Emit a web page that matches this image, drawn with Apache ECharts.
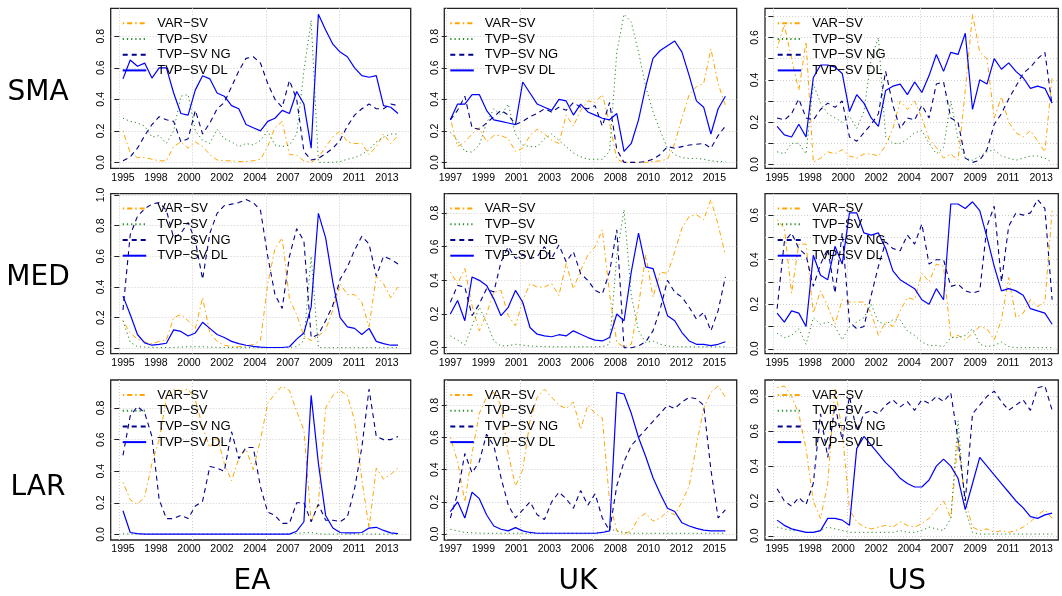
<!DOCTYPE html>
<html><head><meta charset="utf-8">
<script src="https://cdn.jsdelivr.net/npm/echarts@6.0.0/dist/echarts.min.js"></script>
<style>html,body{margin:0;padding:0;background:#fff}#c{width:1062px;height:596px}</style>
</head><body><div id="c"></div>
<script>
// ---------- names & tick labels ----------
const rowNames = ['SMA', 'MED', 'LAR'];
const colNames = ['EA', 'UK', 'US'];
const seriesNames = ['VAR\u2212SV', 'TVP\u2212SV', 'TVP\u2212SV NG', 'TVP\u2212SV DL'];
const xLabelsEA = ['1995','1998','2000','2002','2004','2007','2009','2011','2013'];
const xLabelsUK = ['1997','1999','2001','2003','2006','2008','2010','2012','2015'];
const xLabelsUS = ['1995','1998','2000','2002','2004','2007','2009','2011','2013'];
const xLabelQuarters = [1, 10, 19, 28, 37, 46, 55, 64, 73];
const xGridQuarters = [0, 20, 40, 60, 80];
const firstQuarter = 1, lastQuarter = 76;

// ---------- data (39 evenly spaced samples per series) ----------
const SMA_EA_VAR = [0.20,0.06,0.03,0.03,0.02,0.01,0.01,0.10,0.13,0.09,0.13,0.10,0.05,0.015,0.01,0.01,0.005,0.005,0.01,0.02,0.10,0.22,0.26,0.05,0.045,0.01,0.0,0.03,0.10,0.16,0.20,0.13,0.12,0.12,0.05,0.10,0.18,0.12,0.17];
const SMA_EA_TVP = [0.28,0.26,0.25,0.23,0.16,0.17,0.12,0.20,0.42,0.43,0.20,0.14,0.12,0.21,0.15,0.13,0.10,0.12,0.11,0.14,0.20,0.11,0.10,0.11,0.18,0.58,0.90,0.0,0.0,0.0,0.005,0.02,0.03,0.05,0.08,0.13,0.16,0.18,0.18];
const SMA_EA_NG  = [0.01,0.035,0.09,0.17,0.24,0.29,0.27,0.26,0.13,0.15,0.33,0.18,0.25,0.34,0.38,0.48,0.58,0.66,0.67,0.63,0.50,0.40,0.35,0.52,0.40,0.07,0.015,0.025,0.055,0.09,0.14,0.23,0.30,0.34,0.37,0.34,0.34,0.37,0.36];
const SMA_EA_DL  = [0.53,0.65,0.61,0.63,0.535,0.60,0.60,0.44,0.31,0.30,0.46,0.55,0.53,0.44,0.42,0.36,0.34,0.24,0.22,0.20,0.26,0.28,0.33,0.31,0.45,0.37,0.09,0.94,0.84,0.75,0.70,0.67,0.60,0.55,0.54,0.55,0.36,0.35,0.31];

const SMA_UK_VAR = [0.28,0.10,0.13,0.18,0.22,0.13,0.17,0.17,0.15,0.07,0.09,0.17,0.21,0.18,0.14,0.12,0.30,0.23,0.33,0.39,0.38,0.43,0.25,0.02,0.0,0.0,0.0,0.0,0.005,0.01,0.02,0.12,0.28,0.43,0.48,0.50,0.72,0.50,0.36];
const SMA_UK_TVP = [0.19,0.14,0.07,0.065,0.11,0.25,0.34,0.30,0.37,0.18,0.11,0.10,0.10,0.15,0.18,0.14,0.10,0.06,0.035,0.02,0.02,0.02,0.07,0.70,0.94,0.89,0.70,0.48,0.32,0.20,0.09,0.05,0.03,0.025,0.025,0.02,0.01,0.005,0.005];
const SMA_UK_NG  = [0.27,0.33,0.42,0.22,0.21,0.25,0.29,0.33,0.30,0.24,0.26,0.29,0.31,0.34,0.32,0.35,0.33,0.38,0.35,0.34,0.36,0.23,0.38,0.08,0.0,0.0,0.0,0.005,0.02,0.05,0.10,0.09,0.10,0.11,0.115,0.12,0.09,0.17,0.23];
const SMA_UK_DL  = [0.27,0.37,0.37,0.43,0.43,0.33,0.27,0.26,0.25,0.24,0.51,0.44,0.37,0.35,0.33,0.40,0.39,0.30,0.37,0.32,0.30,0.28,0.27,0.31,0.07,0.12,0.27,0.48,0.66,0.71,0.74,0.77,0.70,0.55,0.39,0.35,0.18,0.34,0.42];

const SMA_US_VAR = [0.55,0.66,0.50,0.35,0.58,0.01,0.03,0.06,0.05,0.07,0.04,0.03,0.05,0.05,0.04,0.09,0.17,0.30,0.26,0.30,0.22,0.12,0.08,0.03,0.05,0.02,0.35,0.71,0.53,0.50,0.22,0.32,0.20,0.15,0.13,0.16,0.11,0.06,0.41];
const SMA_US_TVP = [0.06,0.05,0.10,0.10,0.05,0.38,0.29,0.24,0.22,0.20,0.23,0.17,0.25,0.50,0.60,0.13,0.10,0.10,0.12,0.15,0.16,0.10,0.05,0.08,0.30,0.12,0.03,0.02,0.04,0.06,0.07,0.04,0.03,0.02,0.03,0.04,0.04,0.03,0.01];
const SMA_US_NG  = [0.22,0.21,0.24,0.31,0.22,0.21,0.26,0.29,0.27,0.30,0.13,0.11,0.15,0.19,0.24,0.44,0.28,0.17,0.22,0.21,0.28,0.22,0.38,0.39,0.22,0.20,0.03,0.01,0.02,0.07,0.19,0.24,0.31,0.37,0.43,0.46,0.50,0.53,0.28];
const SMA_US_DL  = [0.18,0.14,0.13,0.19,0.13,0.41,0.47,0.47,0.46,0.43,0.25,0.33,0.29,0.22,0.18,0.35,0.37,0.38,0.33,0.39,0.34,0.42,0.52,0.44,0.53,0.52,0.62,0.26,0.40,0.38,0.50,0.45,0.48,0.44,0.41,0.36,0.37,0.36,0.29];

const MED_EA_VAR = [0.18,0.10,0.06,0.04,0.03,0.045,0.055,0.20,0.22,0.18,0.13,0.33,0.10,0.045,0.02,0.01,0.01,0.015,0.025,0.05,0.42,0.65,0.72,0.32,0.22,0.08,0.05,0.08,0.12,0.25,0.42,0.35,0.35,0.30,0.14,0.47,0.42,0.33,0.40];
const MED_EA_TVP = [0.18,0.04,0.01,0.008,0.006,0.005,0.005,0.005,0.008,0.01,0.01,0.01,0.008,0.006,0.005,0.005,0.004,0.004,0.004,0.004,0.004,0.004,0.005,0.006,0.01,0.05,0.60,0.005,0.004,0.004,0.004,0.004,0.004,0.004,0.004,0.004,0.004,0.004,0.004];
const MED_EA_NG  = [0.25,0.74,0.86,0.91,0.94,0.95,0.90,0.72,0.75,0.82,0.70,0.45,0.75,0.88,0.93,0.94,0.95,0.97,0.95,0.90,0.60,0.35,0.26,0.60,0.78,0.70,0.07,0.09,0.18,0.28,0.45,0.53,0.64,0.73,0.68,0.47,0.60,0.58,0.55];
const MED_EA_DL  = [0.34,0.22,0.09,0.035,0.02,0.025,0.033,0.12,0.11,0.08,0.10,0.17,0.13,0.09,0.07,0.045,0.03,0.02,0.012,0.008,0.005,0.005,0.005,0.01,0.06,0.10,0.27,0.88,0.72,0.43,0.20,0.14,0.13,0.09,0.13,0.045,0.03,0.02,0.02];

const MED_UK_VAR = [0.45,0.38,0.47,0.25,0.10,0.20,0.33,0.34,0.19,0.13,0.28,0.38,0.36,0.36,0.38,0.31,0.50,0.35,0.46,0.55,0.60,0.70,0.32,0.03,0.005,0.02,0.25,0.55,0.30,0.45,0.44,0.57,0.71,0.78,0.79,0.76,0.88,0.73,0.55];
const MED_UK_TVP = [0.07,0.045,0.015,0.13,0.24,0.15,0.04,0.01,0.012,0.02,0.015,0.01,0.008,0.006,0.005,0.005,0.005,0.005,0.005,0.005,0.005,0.006,0.02,0.55,0.82,0.31,0.10,0.03,0.04,0.02,0.01,0.005,0.005,0.005,0.005,0.005,0.005,0.005,0.005];
const MED_UK_NG  = [0.27,0.37,0.36,0.19,0.26,0.35,0.33,0.51,0.60,0.53,0.55,0.53,0.54,0.60,0.53,0.61,0.51,0.57,0.44,0.40,0.34,0.32,0.45,0.70,0.0,0.0,0.01,0.035,0.10,0.23,0.40,0.33,0.30,0.24,0.17,0.21,0.10,0.22,0.42];
const MED_UK_DL  = [0.20,0.28,0.16,0.42,0.40,0.37,0.29,0.19,0.24,0.34,0.27,0.12,0.08,0.07,0.065,0.077,0.07,0.10,0.08,0.06,0.045,0.04,0.06,0.20,0.16,0.45,0.68,0.48,0.47,0.33,0.19,0.16,0.09,0.04,0.02,0.02,0.012,0.02,0.035];

const MED_US_VAR = [0.58,0.54,0.25,0.47,0.47,0.16,0.26,0.19,0.11,0.22,0.21,0.21,0.21,0.16,0.06,0.12,0.10,0.17,0.23,0.22,0.34,0.30,0.38,0.37,0.05,0.06,0.04,0.07,0.10,0.09,0.04,0.13,0.32,0.14,0.16,0.22,0.19,0.21,0.62];
const MED_US_TVP = [0.07,0.05,0.06,0.09,0.02,0.14,0.11,0.12,0.10,0.04,0.10,0.12,0.14,0.20,0.12,0.11,0.13,0.13,0.08,0.06,0.03,0.015,0.015,0.01,0.05,0.05,0.06,0.09,0.02,0.01,0.015,0.03,0.01,0.005,0.005,0.005,0.005,0.005,0.005];
const MED_US_NG  = [0.18,0.48,0.52,0.45,0.42,0.28,0.38,0.45,0.25,0.52,0.12,0.09,0.10,0.24,0.37,0.48,0.45,0.44,0.51,0.47,0.56,0.38,0.40,0.40,0.28,0.29,0.26,0.25,0.26,0.55,0.64,0.30,0.55,0.61,0.60,0.61,0.67,0.63,0.22];
const MED_US_DL  = [0.16,0.12,0.17,0.16,0.10,0.42,0.33,0.31,0.46,0.38,0.61,0.61,0.52,0.51,0.52,0.45,0.35,0.31,0.29,0.27,0.22,0.20,0.27,0.22,0.65,0.65,0.63,0.66,0.62,0.50,0.37,0.26,0.27,0.26,0.24,0.18,0.17,0.16,0.11];

const LAR_EA_VAR = [0.33,0.22,0.19,0.24,0.45,0.60,0.86,0.92,0.91,0.92,0.85,0.68,0.55,0.62,0.45,0.34,0.48,0.54,0.41,0.60,0.83,0.89,0.94,0.91,0.78,0.66,0.08,0.20,0.80,0.88,0.91,0.88,0.72,0.35,0.04,0.42,0.35,0.38,0.42];
const LAR_EA_TVP = [0.004,0.003,0.003,0.002,0.002,0.002,0.002,0.002,0.002,0.002,0.002,0.002,0.002,0.002,0.002,0.002,0.002,0.002,0.002,0.002,0.002,0.002,0.003,0.004,0.006,0.01,0.012,0.004,0.002,0.002,0.002,0.002,0.002,0.002,0.002,0.002,0.002,0.002,0.002];
const LAR_EA_NG  = [0.50,0.75,0.81,0.77,0.62,0.22,0.10,0.10,0.12,0.10,0.18,0.21,0.43,0.42,0.40,0.65,0.48,0.55,0.55,0.30,0.14,0.12,0.07,0.07,0.20,0.20,0.08,0.19,0.09,0.09,0.08,0.11,0.29,0.55,0.92,0.62,0.60,0.60,0.62];
const LAR_EA_DL  = [0.15,0.012,0.005,0.002,0.002,0.002,0.002,0.002,0.002,0.002,0.002,0.002,0.002,0.002,0.002,0.002,0.002,0.002,0.002,0.002,0.002,0.002,0.002,0.002,0.02,0.08,0.88,0.45,0.12,0.04,0.012,0.01,0.01,0.012,0.04,0.045,0.025,0.01,0.005];

const LAR_UK_VAR = [0.60,0.45,0.20,0.50,0.75,0.85,0.88,0.80,0.50,0.30,0.40,0.70,0.85,0.90,0.85,0.80,0.78,0.82,0.65,0.80,0.75,0.72,0.20,0.02,0.0,0.02,0.10,0.13,0.08,0.10,0.14,0.12,0.20,0.30,0.55,0.78,0.88,0.92,0.85];
const LAR_UK_TVP = [0.03,0.02,0.01,0.008,0.006,0.005,0.005,0.005,0.005,0.005,0.005,0.005,0.005,0.005,0.005,0.005,0.005,0.005,0.005,0.005,0.006,0.01,0.03,0.02,0.01,0.005,0.005,0.005,0.005,0.005,0.005,0.005,0.005,0.005,0.005,0.005,0.005,0.005,0.005];
const LAR_UK_NG  = [0.10,0.25,0.50,0.38,0.45,0.62,0.55,0.35,0.18,0.10,0.15,0.20,0.12,0.09,0.20,0.26,0.22,0.16,0.27,0.18,0.25,0.10,0.02,0.30,0.45,0.55,0.60,0.65,0.70,0.75,0.80,0.78,0.82,0.85,0.84,0.80,0.40,0.10,0.15];
const LAR_UK_DL  = [0.14,0.20,0.10,0.26,0.22,0.12,0.05,0.03,0.02,0.04,0.02,0.01,0.005,0.005,0.005,0.005,0.005,0.005,0.005,0.005,0.005,0.01,0.02,0.88,0.87,0.75,0.60,0.48,0.35,0.25,0.16,0.14,0.07,0.05,0.035,0.025,0.02,0.02,0.02];

const LAR_US_VAR = [0.85,0.86,0.80,0.70,0.50,0.20,0.10,0.30,0.85,0.60,0.15,0.08,0.05,0.04,0.05,0.06,0.05,0.08,0.06,0.05,0.07,0.10,0.15,0.20,0.10,0.55,0.20,0.05,0.03,0.04,0.02,0.03,0.02,0.03,0.05,0.08,0.12,0.15,0.10];
const LAR_US_TVP = [0.05,0.04,0.03,0.03,0.02,0.02,0.03,0.05,0.04,0.03,0.02,0.02,0.02,0.02,0.02,0.02,0.02,0.03,0.02,0.02,0.03,0.05,0.04,0.03,0.10,0.66,0.15,0.02,0.01,0.01,0.01,0.01,0.01,0.01,0.01,0.01,0.01,0.01,0.01];
const LAR_US_NG  = [0.27,0.20,0.17,0.22,0.18,0.30,0.70,0.45,0.75,0.55,0.80,0.60,0.70,0.72,0.70,0.75,0.78,0.74,0.77,0.72,0.78,0.76,0.80,0.77,0.82,0.55,0.20,0.70,0.75,0.80,0.83,0.77,0.72,0.75,0.78,0.72,0.85,0.86,0.72];
const LAR_US_DL  = [0.09,0.06,0.04,0.03,0.02,0.02,0.03,0.10,0.10,0.09,0.06,0.50,0.57,0.52,0.47,0.42,0.38,0.33,0.30,0.28,0.28,0.32,0.40,0.44,0.40,0.33,0.15,0.30,0.45,0.40,0.35,0.30,0.25,0.20,0.16,0.11,0.10,0.12,0.13];

// ---------- layout / style ----------
const ROW_TOP = [8.3, 193.6, 380];
const BOX_H = 160;
const COL_LEFT = [110.7, 444.3, 765];
const COL_W = [300, 292.4, 293.3];
const COL_XMIN = [-2.35, -0.65, -2.3];
const PX_PER_Q = 3.667;
const LEG_LEFT = [121.7, 449.3, 776.7];
const X_LABELS = [xLabelsEA, xLabelsUK, xLabelsUS];
const COLORS = ['#FFA500', '#228B22', '#00008B', '#0000FF'];
const DASHES = [[1.5, 3, 5, 3], [1.2, 3], [5, 4], 'solid'];
const WIDTHS = [1, 1, 1.1, 1.2];
const TICK_FONT = '"Liberation Sans", Arial, sans-serif';

const panels = [
  {row:0, col:0, step:0.2, data:[SMA_EA_VAR, SMA_EA_TVP, SMA_EA_NG, SMA_EA_DL]},
  {row:0, col:1, step:0.2, data:[SMA_UK_VAR, SMA_UK_TVP, SMA_UK_NG, SMA_UK_DL]},
  {row:0, col:2, step:0.1, data:[SMA_US_VAR, SMA_US_TVP, SMA_US_NG, SMA_US_DL]},
  {row:1, col:0, step:0.2, data:[MED_EA_VAR, MED_EA_TVP, MED_EA_NG, MED_EA_DL]},
  {row:1, col:1, step:0.2, data:[MED_UK_VAR, MED_UK_TVP, MED_UK_NG, MED_UK_DL]},
  {row:1, col:2, step:0.1, data:[MED_US_VAR, MED_US_TVP, MED_US_NG, MED_US_DL]},
  {row:2, col:0, step:0.2, data:[LAR_EA_VAR, LAR_EA_TVP, LAR_EA_NG, LAR_EA_DL]},
  {row:2, col:1, step:0.2, data:[LAR_UK_VAR, LAR_UK_TVP, LAR_UK_NG, LAR_UK_DL]},
  {row:2, col:2, step:0.2, data:[LAR_US_VAR, LAR_US_TVP, LAR_US_NG, LAR_US_DL]}
];

const grids = [], xAxes = [], yAxes = [], series = [], legends = [];
const gridLineStyle = {color: '#cfcfcf', type: [1, 2], width: 1};

panels.forEach((p, i) => {
  const top = ROW_TOP[p.row], left = COL_LEFT[p.col], w = COL_W[p.col];
  grids.push({left: left, top: top, width: w, height: BOX_H, show: true,
    borderColor: '#222', borderWidth: 1.3, backgroundColor: 'rgba(0,0,0,0)'});

  const xmin = COL_XMIN[p.col], xmax = xmin + w / PX_PER_Q;
  const labs = X_LABELS[p.col];
  xAxes.push({type: 'value', gridIndex: i, min: xmin, max: xmax,
    axisLine: {show: false},
    axisTick: {show: false, customValues: xGridQuarters.filter(v => v > xmin && v < xmax)},
    axisLabel: {customValues: xLabelQuarters, margin: 4, fontSize: 10.5, color: '#000', fontFamily: TICK_FONT,
      formatter: v => { const k = xLabelQuarters.findIndex(q => Math.abs(q - v) < 0.01); return k >= 0 ? labs[k] : ''; }},
    splitLine: {show: true, lineStyle: gridLineStyle}
  });

  const all = [].concat(...p.data);
  const mn = Math.min(...all), mx = Math.max(...all), r = mx - mn;
  const ymin = mn - 0.04 * r, ymax = mx + 0.04 * r;
  const ticks = [], labVals = [];
  const nStep = Math.round(0.2 / p.step);
  for (let j = 0; j * p.step <= ymax + 1e-9; j++) {
    const t = Math.round(j * p.step * 10) / 10;
    ticks.push(t);
    if (j % nStep === 0) labVals.push(t);
  }
  yAxes.push({type: 'value', gridIndex: i, min: ymin, max: ymax,
    axisLine: {show: false},
    axisTick: {show: true, length: 5, customValues: ticks, lineStyle: {color: '#222', width: 1}},
    axisLabel: {customValues: labVals, rotate: 90, margin: 4, fontSize: 10.5, color: '#000', fontFamily: TICK_FONT,
      formatter: v => Number(v).toFixed(1)},
    splitLine: {show: true, lineStyle: gridLineStyle}
  });

  p.data.forEach((arr, s) => {
    const n = arr.length;
    series.push({
      type: 'line', name: seriesNames[s], xAxisIndex: i, yAxisIndex: i,
      data: arr.map((v, k) => [firstQuarter + (lastQuarter - firstQuarter) * k / (n - 1), v]),
      showSymbol: false, symbol: 'none', silent: true, animation: false,
      lineStyle: {color: COLORS[s], width: WIDTHS[s], type: DASHES[s]},
      itemStyle: {color: COLORS[s]}
    });
  });

  legends.push({data: seriesNames, orient: 'vertical', left: LEG_LEFT[p.col], top: top + 8,
    itemWidth: 23.5, itemHeight: 14, itemGap: 1.7, padding: 0, selectedMode: false,
    itemStyle: {opacity: 0, borderWidth: 0},
    textStyle: {fontSize: 13, color: '#000', fontFamily: TICK_FONT, padding: [0, 0, 0, 6], lineHeight: 14}});
});

const bigFont = '"DejaVu Sans", sans-serif';
const rowLabelY = [93, 278, 488];
const colLabelX = [252, 578, 907];
const graphics = [];
rowNames.forEach((t, r) => graphics.push({type: 'text', x: 38, y: rowLabelY[r],
  style: {text: t, fontSize: 28, fontFamily: bigFont, fill: '#000', align: 'center', verticalAlign: 'middle'}}));
colNames.forEach((t, c) => graphics.push({type: 'text', x: colLabelX[c], y: 582,
  style: {text: t, fontSize: 28, fontFamily: bigFont, fill: '#000', align: 'center', verticalAlign: 'middle'}}));

const chart = echarts.init(document.getElementById('c'), null, {renderer: 'canvas'});
chart.setOption({
  animation: false,
  backgroundColor: '#fff',
  grid: grids, xAxis: xAxes, yAxis: yAxes, series: series, legend: legends,
  graphic: graphics
});
</script>
</body></html>
